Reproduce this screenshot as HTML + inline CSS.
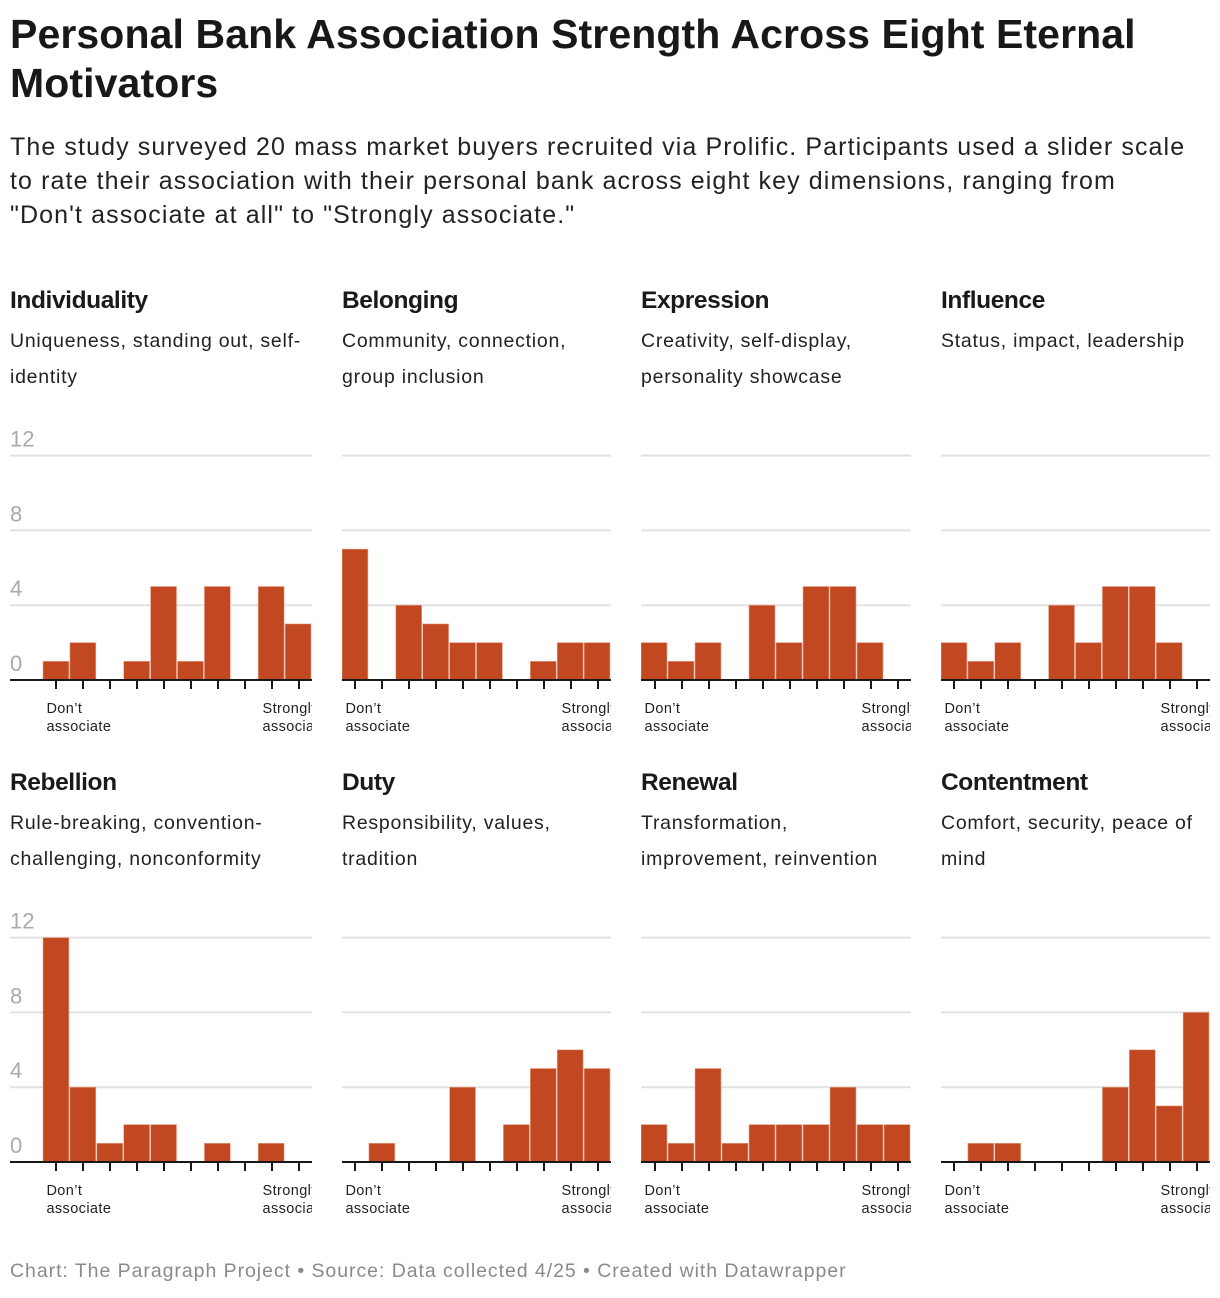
<!DOCTYPE html>
<html><head><meta charset="utf-8"><style>
body{margin:0;width:1220px;height:1298px;background:#fff;font-family:"Liberation Sans",Arial,sans-serif;color:#181818;position:relative;overflow:hidden}
h1{position:absolute;left:10px;top:10px;margin:0;font-size:41px;line-height:49px;font-weight:bold;width:1210px;letter-spacing:0.1px;white-space:nowrap}
.sub{position:absolute;left:10px;top:130px;font-size:25px;line-height:34px;width:1210px;color:#222;letter-spacing:1.1px;white-space:nowrap}
.pt{position:absolute;font-size:24.5px;font-weight:bold;letter-spacing:-0.4px;color:#1a1a1a;top:0}
.pd{position:absolute;font-size:19.5px;line-height:36px;color:#222;width:330px;letter-spacing:0.75px;white-space:nowrap}
svg.c{position:absolute;overflow:hidden}
.foot{position:absolute;left:10px;top:1260px;font-size:19.5px;color:#8a8a8a;letter-spacing:0.95px;white-space:nowrap}
</style></head><body>
<h1>Personal Bank Association Strength Across Eight Eternal<br>Motivators</h1>
<div class="sub">The study surveyed 20 mass market buyers recruited via Prolific. Participants used a slider scale<br>to rate their association with their personal bank across eight key dimensions, ranging from<br>"Don't associate at all" to "Strongly associate."</div>
<div id="panels"></div>
<div class="foot">Chart: The Paragraph Project • Source: Data collected 4/25 • Created with Datawrapper</div>
<script>
const titles=["Individuality","Belonging","Expression","Influence","Rebellion","Duty","Renewal","Contentment"];
const descs=[["Uniqueness, standing out, self-","identity"],["Community, connection,","group inclusion"],["Creativity, self-display,","personality showcase"],["Status, impact, leadership"],["Rule-breaking, convention-","challenging, nonconformity"],["Responsibility, values,","tradition"],["Transformation,","improvement, reinvention"],["Comfort, security, peace of","mind"]];
const individuality=[1,2,0,1,5,1,5,0,5,3];
const belonging=[7,0,4,3,2,2,0,1,2,2];
const expression=[2,1,2,0,4,2,5,5,2,0];
const influence=[2,1,2,0,4,2,5,5,2,0];
const rebellion=[12,4,1,2,2,0,1,0,1,0];
const duty=[0,1,0,0,4,0,2,5,6,5];
const renewal=[2,1,5,1,2,2,2,4,2,2];
const contentment=[0,1,1,0,0,0,4,6,3,8];
const series=[individuality,belonging,expression,influence,rebellion,duty,renewal,contentment];
const yTicks=[0,4,8,12];
const NS="http://www.w3.org/2000/svg";
const root=document.getElementById('panels');
const lefts=[10,342,641,941], rightEdge=[312,611,911,1210];
const rowTop=[0,482];
function mk(tag,attrs,parent){const e=document.createElementNS(NS,tag);for(const k in attrs)e.setAttribute(k,attrs[k]);parent.appendChild(e);return e;}
series.forEach((vals,i)=>{
  const col=i%4,row=Math.floor(i/4),L=lefts[col],R=rightEdge[col],T=rowTop[row];
  const t=document.createElement('div');t.className='pt';t.style.left=L+'px';t.style.top=(287+T)+'px';t.textContent=titles[i];
  
  
  root.appendChild(t);
  const d=document.createElement('div');d.className='pd';d.style.left=L+'px';d.style.top=(323+T)+'px';d.innerHTML=descs[i].join('<br>');
  
  
  root.appendChild(d);
  const svgTop=420+T, W=R-L, H=320;
  const s=document.createElementNS(NS,'svg');s.setAttribute('class','c');s.setAttribute('width',W);s.setAttribute('height',H);
  s.style.left=L+'px';s.style.top=svgTop+'px';
  
  
  root.appendChild(s);
  const base=260, unit=18.7;
  const y=v=>base-v*unit;
  const plotL=(col===0?33:0), bw=(W-plotL)/10;
  const x=k=>plotL+k*bw;
  yTicks.forEach(v=>{
    if(v>0){const g=mk('line',{x1:0,x2:W,y1:y(v),y2:y(v),stroke:'#e2e2e2','stroke-width':2},s);
      
      }
    if(col===0){const tx=mk('text',{x:0,y:y(v)-9,'font-size':22,fill:'#aaa','font-family':'Liberation Sans, sans-serif'},s);tx.textContent=v;
      
      }
  });
  vals.forEach((v,k)=>{
    if(v<=0)return;
    const b=mk('rect',{x:x(k),y:y(v),width:bw-1,height:v*unit,fill:'#c14821',stroke:'#e9a68f','stroke-width':0.6},s);
    
    
  });
  const ax=mk('line',{x1:0,x2:W,y1:base,y2:base,stroke:'#181818','stroke-width':2},s);
  
  
  for(let k=0;k<10;k++){const cx=Math.round(x(k)+bw/2);
    const tk=mk('line',{x1:cx,x2:cx,y1:base,y2:base+9,stroke:'#181818','stroke-width':2},s);
    
    }
  const lx=x(0)+bw/2-10, rx=x(9)+bw/2-36;
  [[lx,"Don’t","associate","x-label-dont-associate"],[rx,"Strongly","associate","x-label-strongly-associate"]].forEach(a=>{
    const tx=mk('text',{x:a[0],y:base+33,'font-size':14.5,fill:'#222','letter-spacing':0.4,'font-family':'Liberation Sans, sans-serif'},s);
    const t1=mk('tspan',{x:a[0]},tx);t1.textContent=a[1];
    const t2=mk('tspan',{x:a[0],dy:18},tx);t2.textContent=a[2];
    
    
  });
});
</script>
</body></html>
